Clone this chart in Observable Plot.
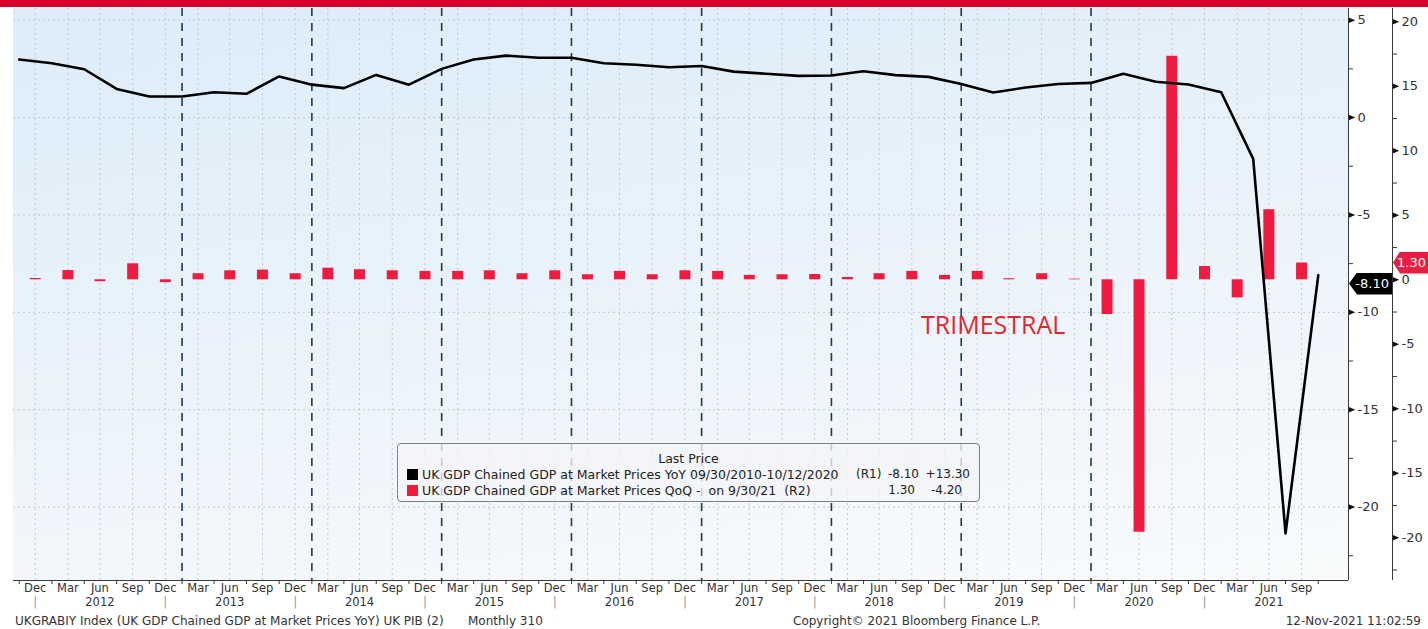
<!DOCTYPE html>
<html>
<head>
<meta charset="utf-8">
<script src="https://cdn.jsdelivr.net/npm/d3@7"></script>
<script src="https://cdn.jsdelivr.net/npm/@observablehq/plot@0.6"></script>
<style>
html,body{margin:0;padding:0;background:#fff;}
#wrap{position:relative;width:1428px;height:629px;overflow:hidden;background:#fff;font-family:"DejaVu Sans",sans-serif;color:#333;}
#topbar{position:absolute;left:0;top:0;width:1428px;height:7px;background:#d6002a;}
#plotbg{position:absolute;left:13px;top:8px;width:1335px;height:572px;
  background:linear-gradient(172deg,#dcedf9 0%,#e6f1fa 35%,#f1f6fb 70%,#f9fbfc 100%);}
#chart{position:absolute;left:0;top:7px;}
#trimestral{position:absolute;left:921px;top:309px;font-family:"Open Sans",sans-serif;font-size:25px;color:#e3262f;line-height:30px;}
#legend{position:absolute;left:397px;top:443px;width:581px;height:57px;border:1px solid #7c7f83;border-radius:4px;
  background:rgba(243,245,247,0.78);font-size:12.5px;color:#222;}
#legend .lh{position:absolute;left:0;width:100%;top:7px;text-align:center;line-height:15px;}
#legend .row{position:absolute;left:0;width:100%;height:15px;line-height:15px;}
#legend .row span{position:absolute;top:0;white-space:pre;}
#legend .row span.sq{left:9px;top:2px;width:11px;height:11px;}
#legend .row span.t{left:24px;}
#legend .row span.n{font-size:12px;}
.tag{position:absolute;color:#fff;font-size:13px;line-height:22px;height:22px;text-align:right;box-sizing:border-box;}
#footer span{position:absolute;top:613px;font-size:12px;line-height:16px;color:#333;white-space:pre;}
</style>
</head>
<body>
<div id="wrap">
  <div id="topbar"></div>
  <div id="plotbg"></div>
  <div id="chart"></div>
  <div id="trimestral">TRIMESTRAL</div>
  <div id="legend">
    <div class="lh">Last Price</div>
    <div class="row" style="top:23px"><span class="sq" style="background:#000"></span><span class="t">UK GDP Chained GDP at Market Prices YoY 09/30/2010-10/12/2020</span><span class="n" style="left:458px">(R1)</span><span class="n" style="right:60px">-8.10</span><span class="n" style="right:9px">+13.30</span></div>
    <div class="row" style="top:39px"><span class="sq" style="background:#f01c40"></span><span class="t">UK GDP Chained GDP at Market Prices QoQ -  on 9/30/21  (R2)</span><span class="n" style="right:64px">1.30</span><span class="n" style="right:17px">-4.20</span></div>
  </div>
  <div id="tagR1" class="tag"></div>
  <div id="tagR2" class="tag"></div>
  <div id="footer">
    <span style="left:15px">UKGRABIY Index (UK GDP Chained GDP at Market Prices YoY) UK PIB (2)</span>
    <span style="left:468px">Monthly 310</span>
    <span style="left:793px">Copyright© 2021 Bloomberg Finance L.P.</span>
    <span style="right:7px">12-Nov-2021 11:02:59</span>
  </div>
</div>
<script>
// ---------- DATA ----------
// YoY line (R1), points at quarter ends
const lineQuarters = ["2011Q3","2011Q4",
  "2012Q1","2012Q2","2012Q3","2012Q4",
  "2013Q1","2013Q2","2013Q3","2013Q4",
  "2014Q1","2014Q2","2014Q3","2014Q4",
  "2015Q1","2015Q2","2015Q3","2015Q4",
  "2016Q1","2016Q2","2016Q3","2016Q4",
  "2017Q1","2017Q2","2017Q3","2017Q4",
  "2018Q1","2018Q2","2018Q3","2018Q4",
  "2019Q1","2019Q2","2019Q3","2019Q4",
  "2020Q1","2020Q2","2020Q3","2020Q4",
  "2021Q1","2021Q2","2021Q3"];
const yoyValues = [2.98, 2.79,
  2.48, 1.47, 1.08, 1.08,
  1.30, 1.22, 2.11, 1.69,
  1.51, 2.19, 1.69, 2.50,
  2.98, 3.18, 3.07, 3.07,
  2.79, 2.71, 2.58, 2.65,
  2.36, 2.25, 2.14, 2.16,
  2.38, 2.18, 2.09, 1.72,
  1.29, 1.54, 1.72, 1.78,
  2.25, 1.84, 1.70, 1.30,
  -2.12, -21.35, -8.10];
// QoQ bars (R2), at mid-quarter
const barQuarters = ["2011Q4",
  "2012Q1","2012Q2","2012Q3","2012Q4",
  "2013Q1","2013Q2","2013Q3","2013Q4",
  "2014Q1","2014Q2","2014Q3","2014Q4",
  "2015Q1","2015Q2","2015Q3","2015Q4",
  "2016Q1","2016Q2","2016Q3","2016Q4",
  "2017Q1","2017Q2","2017Q3","2017Q4",
  "2018Q1","2018Q2","2018Q3","2018Q4",
  "2019Q1","2019Q2","2019Q3","2019Q4",
  "2020Q1","2020Q2","2020Q3","2020Q4",
  "2021Q1","2021Q2","2021Q3"];
const qoqValues = [0.10,
  0.72, -0.15, 1.24, -0.22,
  0.47, 0.70, 0.75, 0.47,
  0.90, 0.78, 0.70, 0.65,
  0.65, 0.70, 0.47, 0.70,
  0.39, 0.65, 0.39, 0.70,
  0.65, 0.34, 0.39, 0.41,
  0.18, 0.47, 0.65, 0.34,
  0.65, 0.08, 0.47, 0.05,
  -2.69, -19.57, 17.33, 1.03,
  -1.40, 5.43, 1.30];
const monthNames = ["Mar","Jun","Sep","Dec"];
const yearLabels = ["2012","2013","2014","2015","2016","2017","2018","2019","2020","2021"];
const dashedYears = ["2013","2014","2015","2016","2017","2018","2019","2020"];
const r1Ticks = [5, 0, -5, -10, -15, -20];
const r1Minor = [2.5, -2.5, -7.5, -12.5, -17.5, -22.5];
const r2Ticks = [20, 15, 10, 5, 0, -5, -10, -15, -20];
const r2Minor = [17.5, 12.5, 7.5, 2.5, -2.5, -7.5, -12.5, -17.5, -22.5];
const r1Domain = [-23.77, 5.6];
const r2Domain = [-23.31, 21.03];
const xDomain = [new Date(2011, 8, 15), new Date(2021, 11, 25)];
const lastR1 = -8.10, lastR2 = 1.30;

// ---------- helpers ----------
const qYear = s => +s.slice(0, 4), qNum = s => +s.slice(5);
const qStart = s => new Date(qYear(s), (qNum(s) - 1) * 3, 1);
const qEnd = s => new Date(qYear(s), qNum(s) * 3, 1);
const qMid = s => new Date(qYear(s), (qNum(s) - 1) * 3 + 1, 15);
const conv = v => r1Domain[0] + (v - r2Domain[0]) * (r1Domain[1] - r1Domain[0]) / (r2Domain[1] - r2Domain[0]);

const lineData = lineQuarters.map((q, i) => ({date: qEnd(q), v: yoyValues[i]}));
const barData = barQuarters.map((q, i) => ({date: qMid(q), v: qoqValues[i], label: monthNames[qNum(q) - 1]}));
const boundaries = barQuarters.map(qStart).concat([qEnd(barQuarters[barQuarters.length - 1])]);
const yearPos = yearLabels.map(y => ({date: new Date(+y, 4, 15), text: y}));
const sepPos = yearLabels.map(y => new Date(+y - 1, 10, 15));
const dashedPos = dashedYears.map(y => new Date(+y, 0, 1));

const triRight = {
  draw(ctx, size) {
    const r = Math.sqrt(size / Math.PI);
    ctx.moveTo(-r, -r * 0.85);
    ctx.lineTo(r, 0);
    ctx.lineTo(-r, r * 0.85);
    ctx.closePath();
  }
};
const gridColor = "#bfc8d1";
const axisColor = "#3a3a3a";

const chart = Plot.plot({
  width: 1428,
  height: 605,
  marginLeft: 13,
  marginRight: 80,
  marginTop: 1,
  marginBottom: 32,
  style: {background: "transparent", fontFamily: "DejaVu Sans, sans-serif", fontSize: "11px", color: "#333", overflow: "visible"},
  x: {type: "time", domain: xDomain},
  y: {domain: r1Domain},
  marks: [
    // grid
    Plot.ruleY(r1Ticks, {y: d => d, stroke: gridColor, strokeDasharray: "2,3"}),
    Plot.ruleX(barData, {x: "date", stroke: gridColor, strokeDasharray: "2,3"}),
    // dashed year separators
    Plot.ruleX(dashedPos, {x: d => d, stroke: "#1d3955", strokeWidth: 1.6, strokeDasharray: "8,7"}),
    // bars (R2)
    Plot.ruleX(barData, {x: "date", y1: () => conv(0), y2: d => conv(d.v), stroke: "#f01c40", strokeWidth: 11}),
    // line (R1)
    Plot.line(lineData, {x: "date", y: "v", stroke: "#000", strokeWidth: 2.6}),
    // frame lines
    Plot.ruleY([r1Domain[0]], {stroke: axisColor}),
    Plot.ruleX([xDomain[1]], {stroke: axisColor}),
    Plot.ruleX([xDomain[1]], {dx: 44, stroke: axisColor}),
    // x axis
    Plot.axisX(boundaries, {anchor: "bottom", tickSize: 4, tickFormat: () => "", label: null, stroke: axisColor}),
    Plot.text(barData, {x: "date", text: "label", frameAnchor: "bottom", dy: 11, fill: "#333", fontSize: 11.5}),
    Plot.text(yearPos, {x: "date", text: "text", frameAnchor: "bottom", dy: 25, fill: "#333", fontSize: 11.5}),
    Plot.text(sepPos, {x: d => d, text: () => "|", frameAnchor: "bottom", dy: 25, fill: "#9a9a9a", fontSize: 12}),
    // R1 axis
    Plot.axisY(r1Minor, {anchor: "right", tickSize: 4, tickFormat: () => "", label: null, stroke: axisColor}),
    Plot.dot(r1Ticks, {y: d => d, frameAnchor: "right", dx: 3.5, symbol: triRight, r: 3.2, fill: "#111", stroke: null}),
    Plot.text(r1Ticks, {y: d => d, frameAnchor: "right", dx: 9, textAnchor: "start", text: d => String(d), fontSize: 13, fill: "#333"}),
    // R2 axis
    Plot.axisY(r2Minor.map(conv), {anchor: "right", dx: 44, tickSize: 4, tickFormat: () => "", label: null, stroke: axisColor}),
    Plot.dot(r2Ticks, {y: d => conv(d), frameAnchor: "right", dx: 47.5, symbol: triRight, r: 3.2, fill: "#111", stroke: null}),
    Plot.text(r2Ticks, {y: d => conv(d), frameAnchor: "right", dx: 53, textAnchor: "start", text: d => String(d), fontSize: 13, fill: "#333"})
  ]
});
document.getElementById("chart").appendChild(chart);

// value tags on the right axes
const ys = chart.scale("y");
const yR2 = ys.apply(conv(lastR2)) + 7;
let yR1 = ys.apply(lastR1) + 7;
if (Math.abs(yR1 - yR2) < 21) yR1 = yR2 + 21;
const t1 = document.getElementById("tagR1");
t1.textContent = lastR1.toFixed(2);
Object.assign(t1.style, {left: "1349px", width: "43px", top: (yR1 - 11) + "px", background: "#000",
  paddingRight: "3px", clipPath: "polygon(0 50%, 8px 0, 100% 0, 100% 100%, 8px 100%)"});
const t2 = document.getElementById("tagR2");
t2.textContent = lastR2.toFixed(2);
Object.assign(t2.style, {left: "1393px", width: "35px", top: (yR2 - 11) + "px", background: "#e81e40",
  paddingRight: "2px", clipPath: "polygon(0 50%, 7px 0, 100% 0, 100% 100%, 7px 100%)"});
</script>
</body>
</html>
